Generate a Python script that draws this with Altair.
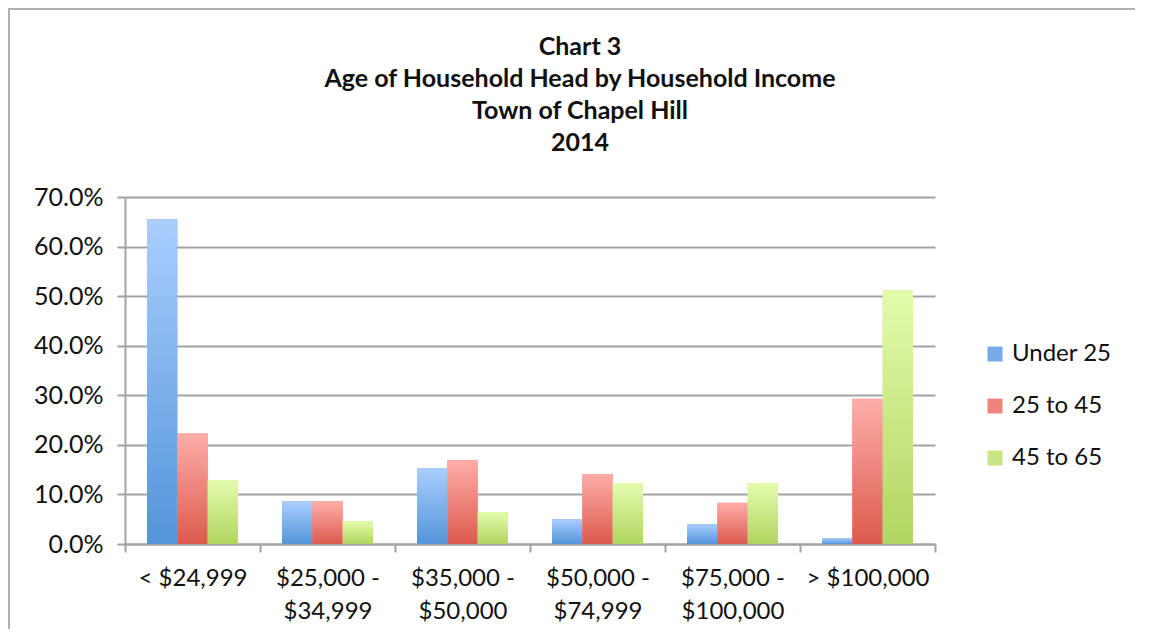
import altair as alt
import pandas as pd

categories = ["< $24,999", "$25,000 -\n$34,999", "$35,000 -\n$50,000",
              "$50,000 -\n$74,999", "$75,000 -\n$100,000", "> $100,000"]
series = ["Under 25", "25 to 45", "45 to 65"]
under_25 = [65.5, 8.6, 15.3, 5.0, 4.0, 1.2]
age_25_45 = [22.3, 8.6, 16.9, 14.1, 8.3, 29.3]
age_45_65 = [12.8, 4.6, 6.4, 12.2, 12.2, 51.2]
title_lines = ["Chart 3", "Age of Household Head by Household Income",
               "Town of Chapel Hill", "2014"]

rows = []
for s, vals in zip(series, [under_25, age_25_45, age_45_65]):
    for c, v in zip(categories, vals):
        rows.append({"category": c, "series": s, "value": v / 100.0})
df = pd.DataFrame(rows)
one = pd.DataFrame({"k": [0]})

FONT = "Lato"
GRAY = "#a3a3a3"

solid = ["#76aae8", "#ee857c", "#c9e484"]
grads = [("#aacefe", "#5295d9"), ("#fdaea8", "#dc5a4e"), ("#e3fcac", "#b1d561")]

x_enc = alt.X("category:N", sort=categories, title=None,
              scale=alt.Scale(paddingInner=0, paddingOuter=0),
              axis=alt.Axis(labelAngle=0, tickBand="extent", tickSize=8,
                            tickColor=GRAY, tickWidth=2, domainColor=GRAY,
                            domainWidth=2, labelFontSize=24, labelFont=FONT,
                            labelColor="#111111", labelLineHeight=33,
                            labelPadding=14, labelBaseline="top",
                            labelExpr="split(datum.label, '\\n')"))
xo_enc = alt.XOffset("series:N", sort=series,
                     scale=alt.Scale(domain=series, paddingInner=0,
                                     paddingOuter=0.725))
y_enc = alt.Y("value:Q", title=None,
              scale=alt.Scale(domain=[0, 0.7], nice=False),
              axis=alt.Axis(values=[0, 0.1, 0.2, 0.3, 0.4, 0.5, 0.6, 0.7],
                            format=".1%", tickSize=8, tickColor=GRAY,
                            tickWidth=2, domainColor=GRAY, domainWidth=2,
                            gridColor=GRAY, gridWidth=2, labelFontSize=25,
                            labelFont=FONT, labelColor="#111111",
                            labelPadding=14))

base = alt.Chart(df).mark_bar().encode(
    x=x_enc, xOffset=xo_enc, y=y_enc,
    color=alt.Color("series:N", sort=series,
                    scale=alt.Scale(domain=series, range=solid),
                    legend=alt.Legend(title=None, orient="none", legendX=858,
                                      legendY=145, symbolType="square",
                                      symbolSize=225, symbolStrokeWidth=0,
                                      labelFontSize=24, labelFont=FONT,
                                      labelColor="#111111", rowPadding=28,
                                      labelOffset=5)))

layers = [base]
for s, (top, bottom) in zip(series, grads):
    g = alt.LinearGradient(gradient="linear",
                           stops=[alt.GradientStop(color=top, offset=0),
                                  alt.GradientStop(color=bottom, offset=1)],
                           x1=0, x2=0, y1=0, y2=1)
    layers.append(
        alt.Chart(df).transform_filter(alt.datum.series == s)
        .mark_bar(color=g).encode(x=x_enc, xOffset=xo_enc, y=y_enc)
    )

title_y = [-150, -118, -86, -54]
for line, ty in zip(title_lines, title_y):
    layers.append(
        alt.Chart(pd.DataFrame({"line": [line]}))
        .mark_text(font=FONT, fontSize=25, fontWeight="bold", color="#111111",
                   align="center", baseline="middle")
        .encode(text="line:N", x=alt.value(455), y=alt.value(ty))
    )

border_top = alt.Chart(one).mark_rule(color="#b0b0b0", strokeWidth=2).encode(
    x=alt.value(-117), x2=alt.value(1010), y=alt.value(-188))
border_left = alt.Chart(one).mark_rule(color="#b0b0b0", strokeWidth=2).encode(
    x=alt.value(-116), y=alt.value(-188), y2=alt.value(440))

chart = alt.layer(*layers, border_top, border_left).properties(
    width=810, height=347,
    autosize=alt.AutoSizeParams(type="none"),
    padding={"left": 117, "top": 189, "right": 200, "bottom": 85},
).configure_view(stroke=None)

chart.save("out.html", embed_options={"renderer": "svg", "actions": False})
